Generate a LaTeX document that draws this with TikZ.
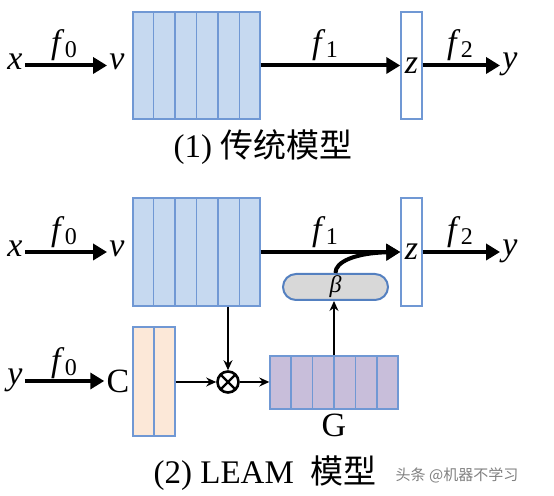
\documentclass[tikz,border=0pt]{standalone}
\usepackage{fontspec}
\setmainfont{Liberation Serif}
\newfontfamily\cjk{Noto Sans CJK SC}
\usetikzlibrary{arrows.meta,calc}

\definecolor{blkfill}{RGB}{198,217,240}
\definecolor{blkline}{RGB}{112,152,212}
\definecolor{peach}{RGB}{252,232,216}
\definecolor{lavender}{RGB}{200,190,218}
\definecolor{pillgray}{RGB}{216,216,216}
\definecolor{pillline}{RGB}{84,128,192}

\newcommand{\fsub}[1]{\textit{f}\kern0.3pt\raisebox{-0.12em}{\fontsize{12}{12}\selectfont #1}}

\tikzset{
  sym/.style={inner sep=1pt, font=\fontsize{17}{17}\selectfont\itshape},
  fun/.style={inner sep=0pt, font=\fontsize{17}{17}\selectfont},
  caption/.style={inner sep=0pt, font=\fontsize{16.5}{16.5}\selectfont},
  bigarrow/.style={line width=2pt, -{Triangle[length=7pt,width=8pt]}},
  thinarrow/.style={line width=0.7pt, -{Stealth[length=5pt,width=4.5pt]}},
  layer/.style={draw=blkline, line width=0.7pt, fill=#1, inner sep=0pt},
}

\begin{document}
\begin{tikzpicture}[x=0.5pt,y=-0.5pt]
\useasboundingbox (0,0) rectangle (554,496);

\node[sym] (x1) at (15,62) {x};
\node[sym] (v1) at (117,62) {v};
\node[layer=blkfill, minimum width=63.5pt, minimum height=53.5pt] (V1) at (196.5,65.5) {};
\foreach \i in {1,...,5}
  \draw[blkline, line width=0.7pt] ($(V1.north west)!\i/6!(V1.north east)$) -- ($(V1.south west)!\i/6!(V1.south east)$);
\node[layer=white, minimum width=10.5pt, minimum height=53.5pt, font=\fontsize{17}{17}\selectfont\itshape] (z1) at (411.5,65.5) {z};
\node[sym] (y1) at (510,64) {y};
\draw[bigarrow] (x1.east |- 0,65.5) -- (v1.west |- 0,65.5);
\draw[bigarrow] (V1.east) -- (z1.west);
\draw[bigarrow] (z1.east) -- (y1.west |- z1);
\node[fun] at (64,45) {\fsub{0}};
\node[fun] at (325,45) {\fsub{1}};
\node[fun] at (460,45) {\fsub{2}};
\node[caption] at (263,147) {(1)\ {\cjk 传统模型}};

\node[sym] (x2) at (15,249) {x};
\node[sym] (v2) at (117,249) {v};
\node[layer=blkfill, minimum width=63.5pt, minimum height=54pt] (V2) at (196.5,252) {};
\foreach \i in {1,...,5}
  \draw[blkline, line width=0.7pt] ($(V2.north west)!\i/6!(V2.north east)$) -- ($(V2.south west)!\i/6!(V2.south east)$);
\node[layer=white, minimum width=10.5pt, minimum height=54pt, font=\fontsize{17}{17}\selectfont\itshape] (z2) at (411.5,252) {z};
\node[sym] (y2) at (510,251) {y};
\node[draw=pillline, line width=1pt, fill=pillgray, rounded corners=6.5pt, minimum width=52.5pt, minimum height=13pt, inner sep=0pt, font=\fontsize{12}{12}\selectfont\itshape] (beta) at (335.5,287) {β};
\draw[bigarrow] (x2.east |- V2) -- (v2.west |- V2);
\draw[bigarrow] (V2.east) -- (z2.west);
\draw[bigarrow] (beta.north) .. controls (335,262) and (355,253) .. (z2.west);
\draw[bigarrow] (z2.east) -- (y2.west |- z2);
\node[fun] at (64,232) {\fsub{0}};
\node[fun] at (325,232) {\fsub{1}};
\node[fun] at (460,232) {\fsub{2}};

\node[sym] (y3) at (15,380) {y};
\node[sym, font=\fontsize{17}{17}\selectfont] (C) at (118,381) {C};
\node[layer=peach, minimum width=21pt, minimum height=54.5pt] (Cb) at (154,381.5) {};
\draw[blkline, line width=0.7pt] (Cb.north) -- (Cb.south);
\node[draw, circle, line width=1.3pt, minimum size=10.5pt, inner sep=0pt,
  path picture={\draw[line width=1.2pt] (path picture bounding box.north west) -- (path picture bounding box.south east)
    (path picture bounding box.north east) -- (path picture bounding box.south west);}] (ot) at (228,382) {};
\node[layer=lavender, minimum width=64pt, minimum height=26.5pt] (G) at (334,382.5) {};
\foreach \i in {1,...,5}
  \draw[blkline, line width=0.7pt] ($(G.north west)!\i/6!(G.north east)$) -- ($(G.south west)!\i/6!(G.south east)$);
\node[sym, font=\fontsize{17}{17}\selectfont] (Glbl) at (334,425) {G};
\draw[bigarrow] (y3.east |- C) -- (C.west);
\node[fun] at (64,363) {\fsub{0}};
\draw[thinarrow] (ot |- V2.south) -- (ot.north);
\draw[thinarrow] (Cb.east |- ot) -- (ot.west);
\draw[thinarrow] (ot.east) -- (G.west |- ot);
\draw[thinarrow] (G.north) -- (G.north |- beta.south);
\node[caption] at (265,473) {(2) LEAM\ \ {\cjk 模型}};
\node[inner sep=0pt, text=gray, font=\cjk\fontsize{7.5}{7.5}\selectfont] at (457,475) {头条 @机器不学习};
\end{tikzpicture}
\end{document}
